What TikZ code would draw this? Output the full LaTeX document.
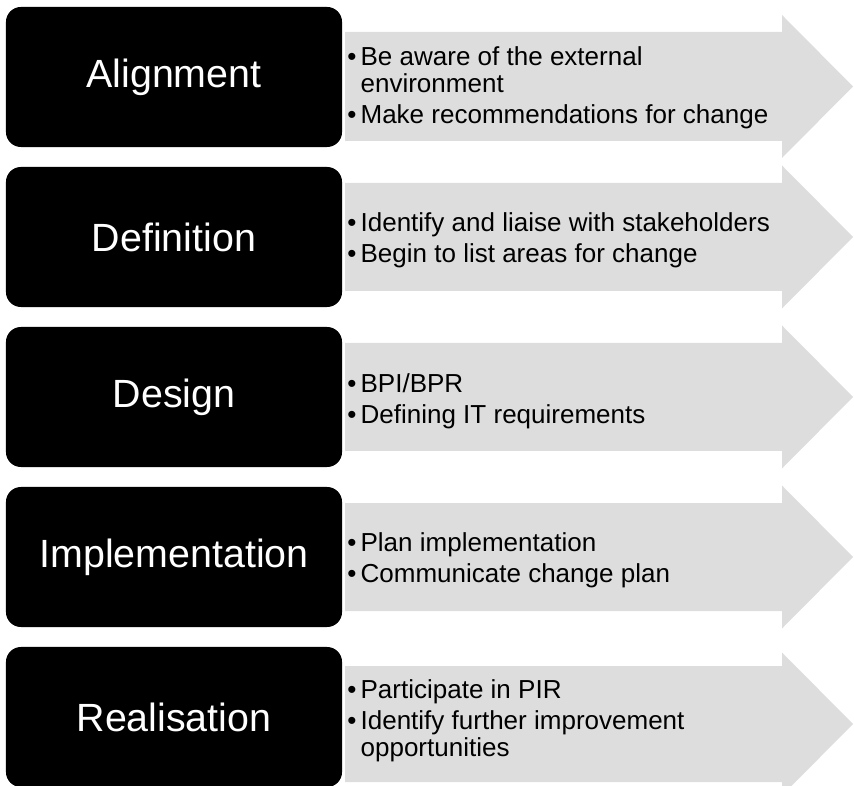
\documentclass[tikz,border=0pt]{standalone}
\usepackage{fontspec}
\setmainfont{Liberation Sans}
\usepackage{xcolor}
\definecolor{arrowgrey}{RGB}{221,221,221}

\begin{document}
\begin{tikzpicture}[x=0.025cm, y=-0.025cm,
    stage/.style={fill=black, text=white, rounded corners=0.375cm,
        minimum width=8.4cm, minimum height=3.5cm, inner sep=0pt,
        font=\fontsize{28}{30}\selectfont},
    points/.style={anchor=west, inner sep=0pt, align=left,
        font=\fontsize{18.5}{19.5}\selectfont}]
    \useasboundingbox (0,0) rectangle (854,786);
    \clip (0,0) rectangle (854,786);

    % Grey arrows
    \fill[arrowgrey] (345,32) -- (782,32) -- (782,15) -- (853,86.5) -- (782,158) -- (782,141) -- (345,141) -- cycle;
    \fill[arrowgrey] (345,183) -- (782,183) -- (782,165.5) -- (853,237) -- (782,308.5) -- (782,291) -- (345,291) -- cycle;
    \fill[arrowgrey] (345,343) -- (782,343) -- (782,325.5) -- (853,397) -- (782,468.5) -- (782,451) -- (345,451) -- cycle;
    \fill[arrowgrey] (345,503) -- (782,503) -- (782,485.5) -- (853,557) -- (782,628.5) -- (782,611) -- (345,611) -- cycle;
    \fill[arrowgrey] (345,666) -- (782,666) -- (782,652.5) -- (853,724) -- (782,795.5) -- (782,782) -- (345,782) -- cycle;

    % Stage boxes
    \node[stage] (align) at (174,77) {Alignment};
    \node[stage] (defin) at (174,237) {Definition};
    \node[stage] (design) at (174,397) {Design};
    \node[stage] (implem) at (174,557) {Implementation};
    \node[stage] (realis) at (174,717) {Realisation};

    % Bullet points
    \node[points] (alignP) at (347,88) {\textbullet\hspace{3pt}Be aware of the external\\
        \hphantom{\textbullet\hspace{3pt}}environment\\[2.5pt]
        \textbullet\hspace{3pt}Make recommendations for change};
    \node[points] (definP) at (347,240) {\textbullet\hspace{3pt}Identify and liaise with stakeholders\\[2.5pt]
        \textbullet\hspace{3pt}Begin to list areas for change};
    \node[points] (designP) at (347,401) {\textbullet\hspace{3pt}BPI/BPR\\[2.5pt]
        \textbullet\hspace{3pt}Defining IT requirements};
    \node[points] (implemP) at (347,560) {\textbullet\hspace{3pt}Plan implementation\\[2.5pt]
        \textbullet\hspace{3pt}Communicate change plan};
    \node[points] (realisP) at (347,721) {\textbullet\hspace{3pt}Participate in PIR\\[2.5pt]
        \textbullet\hspace{3pt}Identify further improvement\\
        \hphantom{\textbullet\hspace{3pt}}opportunities};
\end{tikzpicture}
\end{document}
